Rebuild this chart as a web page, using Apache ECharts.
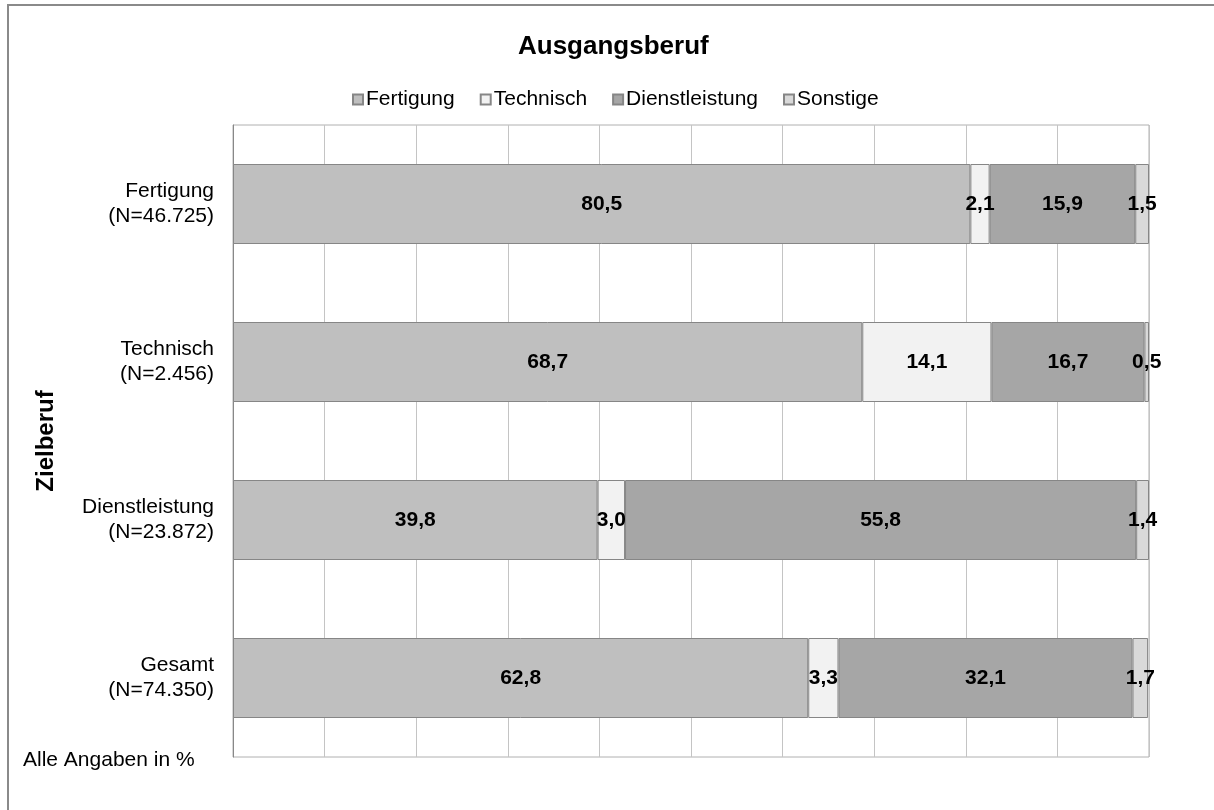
<!DOCTYPE html>
<html>
<head>
<meta charset="utf-8">
<script src="https://cdn.jsdelivr.net/npm/echarts@6/dist/echarts.min.js"></script>
<style>
  html, body { margin: 0; padding: 0; background: #fff; }
  #chart { width: 1214px; height: 810px; }
</style>
</head>
<body>
<div id="chart"></div>
<script>
const categories = [
  "Fertigung\n(N=46.725)",
  "Technisch\n(N=2.456)",
  "Dienstleistung\n(N=23.872)",
  "Gesamt\n(N=74.350)"
];
const seriesNames = ["Fertigung", "Technisch", "Dienstleistung", "Sonstige"];
const fertigungValues = [80.5, 68.7, 39.8, 62.8];
const technischValues = [2.1, 14.1, 3.0, 3.3];
const dienstleistungValues = [15.9, 16.7, 55.8, 32.1];
const sonstigeValues = [1.5, 0.5, 1.4, 1.7];
const xTicks = [0, 10, 20, 30, 40, 50, 60, 70, 80, 90, 100];

const colors = ["#bfbfbf", "#f2f2f2", "#a6a6a6", "#d9d9d9"];
const font = "'Liberation Sans', Arial, sans-serif";

function formatValue(value) {
  return value.toFixed(1).replace(".", ",");
}

const valueSets = [fertigungValues, technischValues, dienstleistungValues, sonstigeValues];

const chart = echarts.init(document.getElementById("chart"));

chart.setOption({
  animation: false,
  textStyle: { fontFamily: font },
  title: {
    text: "Ausgangsberuf",
    left: 513,
    top: 29,
    textStyle: { fontFamily: font, fontSize: 26, fontWeight: "bold", color: "#000" }
  },
  legend: {
    data: seriesNames,
    left: 347,
    top: 84,
    icon: "rect",
    itemWidth: 10,
    itemHeight: 10,
    itemGap: 25,
    textStyle: { fontFamily: font, fontSize: 21, color: "#000", padding: [0, 0, 0, -2] }
  },
  grid: {
    left: 233,
    top: 125,
    width: 916,
    height: 632,
    show: true,
    borderColor: "#b0b0b0",
    borderWidth: 1
  },
  xAxis: {
    type: "value",
    min: xTicks[0],
    max: xTicks[xTicks.length - 1],
    interval: 10,
    axisLabel: { show: false },
    axisTick: { show: false },
    axisLine: { show: false },
    splitLine: { lineStyle: { color: "#c4c4c4", width: 1 } }
  },
  yAxis: {
    type: "category",
    inverse: true,
    data: categories,
    name: "Zielberuf",
    nameLocation: "middle",
    nameGap: 175,
    nameTextStyle: { fontFamily: font, fontSize: 24, fontWeight: "bold", color: "#000" },
    axisTick: { show: false },
    axisLine: { lineStyle: { color: "#888888", width: 1 } },
    axisLabel: {
      fontFamily: font,
      fontSize: 21,
      lineHeight: 25,
      color: "#000",
      margin: 19,
      align: "right"
    },
    splitLine: { show: false }
  },
  graphic: [
    {
      type: "rect",
      silent: true,
      shape: { x: 8, y: 5, width: 1240, height: 840 },
      style: { fill: "none", stroke: "#8a8a8a", lineWidth: 2 }
    },
    {
      type: "text",
      left: 23,
      top: 750,
      style: { text: "Alle Angaben in %", font: "21px " + font, fill: "#000" }
    }
  ],
  series: seriesNames.map((name, i) => ({
    name: name,
    type: "bar",
    stack: "total",
    barWidth: 80,
    data: valueSets[i],
    itemStyle: { color: colors[i], borderColor: "#868686", borderWidth: 1 },
    label: {
      show: true,
      position: "inside",
      fontFamily: font,
      fontSize: 21,
      fontWeight: "bold",
      color: "#000",
      formatter: (p) => formatValue(p.value)
    }
  }))
});
</script>
</body>
</html>
